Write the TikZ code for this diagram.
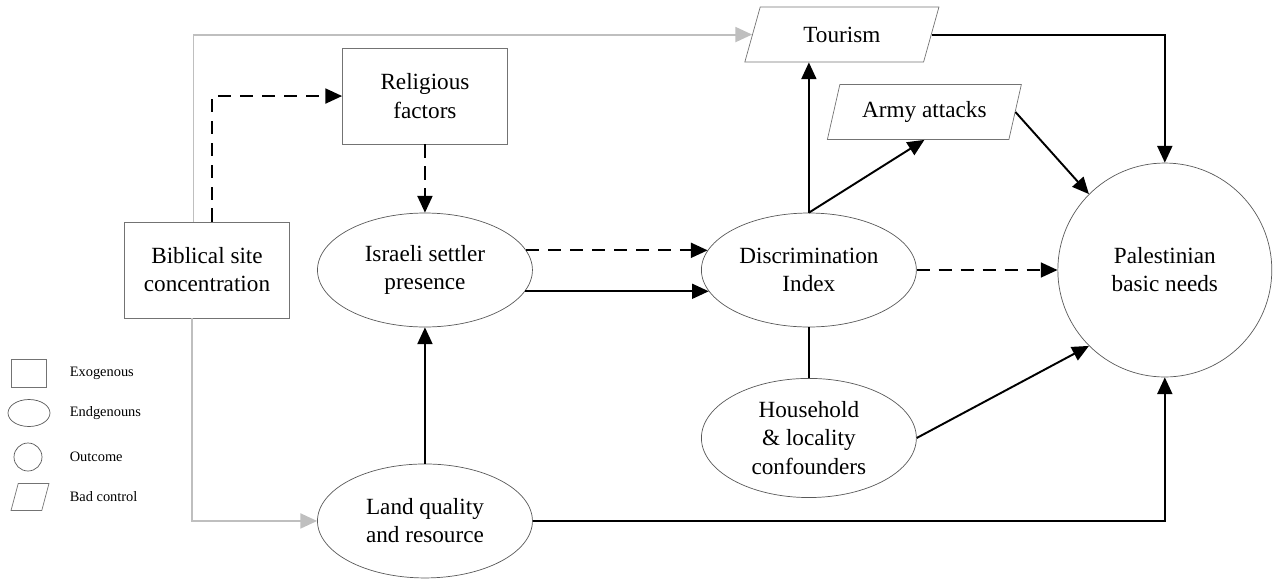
\documentclass[tikz,border=0pt]{standalone}
\usepackage{fontspec}
\setmainfont{Liberation Serif}
\usetikzlibrary{arrows.meta,shapes.geometric,positioning}

\begin{document}
\begin{tikzpicture}[->,>={Triangle[length=9.5pt,width=8.5pt]},line width=1.1pt,
        x=0.02cm,y=-0.02cm,on grid,
        every node/.style={font=\fontsize{13.2}{16}\selectfont}]
    \tikzstyle{exo}=[rectangle,draw=black!55,thin,align=center,
        minimum width=3.3cm,minimum height=1.92cm]
    \tikzstyle{endo}=[ellipse,draw=black!65,thin,align=center,
        minimum width=4.3cm,minimum height=2.28cm]
    \tikzstyle{outcome}=[circle,draw=black!65,thin,align=center,
        minimum size=4.28cm]
    \tikzstyle{bad}=[trapezium,trapezium left angle=73,trapezium right angle=107,
        trapezium stretches=true,draw=black!55,thin,
        minimum width=3.9cm,minimum height=1.1cm]
    \tikzstyle{key}=[font=\fontsize{8.2}{10}\selectfont,anchor=west]
    \tikzstyle{maybe}=[dash pattern=on 7.5pt off 5pt]
    \tikzstyle{site}=[draw=black!25]

    \useasboundingbox (0,0) rectangle (1273,579);

    \node[exo] (bib) at (207,270) {Biblical site\\concentration};
    \node[endo] (settler) [right=4.36cm of bib] {Israeli settler\\presence};
    \node[exo] (rel) [above=3.48cm of settler] {Religious\\factors};
    \node[endo] (land) [below=5.02cm of settler] {Land quality\\and resource};
    \node[endo] (disc) [right=7.68cm of settler] {Discrimination\\Index};
    \node[endo] (house) [below=3.36cm of disc] {Household\\\& locality\\confounders};
    \node[outcome] (needs) [right=7.12cm of disc] {Palestinian\\basic needs};
    \node[bad] (tour) [above right=4.71cm and 0.66cm of disc] {Tourism};
    \node[bad] (army) [above right=3.16cm and 2.31cm of disc] {Army attacks};

    % legend
    \node[exo,minimum width=0.7cm,minimum height=0.56cm] (kexo) at (29,373) {};
    \node[endo,minimum width=0.84cm,minimum height=0.54cm] (kendo) at (29,413) {};
    \node[outcome,minimum size=0.56cm] (kout) at (28,457) {};
    \node[bad,minimum width=0.76cm,minimum height=0.54cm] (kbad) at (30,497) {};
    \node[key] (lexo) at (63,373) {Exogenous};
    \node[key] (lendo) at (63,413) {Endgenouns};
    \node[key] (lout) at (63,457) {Outcome};
    \node[key] (lbad) at (63,497) {Bad control};

    \draw[site] ([xshift=-0.27cm]bib.north) |- (tour);
    \draw[site] ([xshift=-0.3cm]bib.south) |- (land);
    \draw[maybe] ([xshift=0.1cm]bib.north) |- (rel);

    \path (rel) edge[maybe] (settler)
          (settler.11) edge[maybe] (disc.169)
          (settler.-12) edge (disc.192)
          (land) edge (settler)
          (disc) edge[maybe] (needs)
          (disc.north) edge (army.south)
          (army.east) edge (needs.135)
          (house.east) edge (needs.225)
          (disc) edge[-] (house);
    \draw (disc.north) -- (disc.north |- tour.south);
    \draw (tour.east) -| (needs.north);
    \draw (land.east) -| (needs.south);
\end{tikzpicture}
\end{document}
